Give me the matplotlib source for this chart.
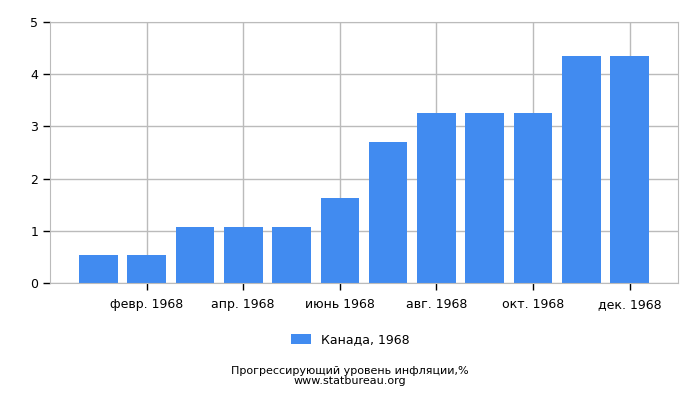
import matplotlib
matplotlib.use("Agg")
import matplotlib.pyplot as plt

months = ["янв. 1968", "февр. 1968", "март 1968", "апр. 1968", "май 1968", "июнь 1968",
          "июль 1968", "авг. 1968", "сент. 1968", "окт. 1968", "нояб. 1968", "дек. 1968"]
values = [0.54, 0.54, 1.08, 1.08, 1.08, 1.63, 2.71, 3.26, 3.26, 3.26, 4.35, 4.35]
series_name = "Канада, 1968"

fig = plt.figure(figsize=(7, 4), dpi=100)
ax = fig.add_axes([50 / 700, 117 / 400, 628 / 700, 261 / 400])

x = list(range(len(values)))
ax.bar(x, values, width=0.8, color="#418bf0", label=series_name, zorder=2)

ax.set_xlim(-1, 12)
ax.set_ylim(0, 5)
ax.set_yticks([0, 1, 2, 3, 4, 5])
ax.set_xticks(x[1::2])
ax.set_xticklabels(months[1::2])
ax.grid(True, color="#bbbbbb", linewidth=1, zorder=0)

for s in ax.spines.values():
    s.set_color("#bbbbbb")
ax.tick_params(axis="both", colors="black", labelsize=9, length=5, width=1)
ax.tick_params(axis="x", pad=6)

ax.legend(loc="upper center", bbox_to_anchor=(300 / 628, -0.15), frameon=False,
          fontsize=9, handlelength=1.6, handleheight=0.8)

fig.text(0.5, 29 / 400, "Прогрессирующий уровень инфляции,%", ha="center", va="center", fontsize=8)
fig.text(0.5, 19 / 400, "www.statbureau.org", ha="center", va="center", fontsize=8)

fig.savefig("out.png", dpi=100)
